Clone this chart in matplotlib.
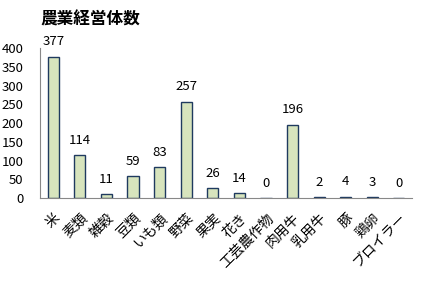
import matplotlib
matplotlib.use("Agg")
import matplotlib.pyplot as plt
import numpy as np

plt.rcParams['font.family'] = ['Noto Sans CJK JP', 'DejaVu Sans']

title = "農業経営体数"
categories = ["米", "麦類", "雑穀", "豆類", "いも類", "野菜", "果実", "花き",
              "工芸農作物", "肉用牛", "乳用牛", "豚", "鶏卵", "ブロイラー"]
values = [377, 114, 11, 59, 83, 257, 26, 14, 0, 196, 2, 4, 3, 0]
yticks = [0, 50, 100, 150, 200, 250, 300, 350, 400]

fig = plt.figure(figsize=(4.21, 2.81), dpi=100)
ax = fig.add_axes([0.095, 0.295, 0.884, 0.534])
x = np.arange(len(categories))
ax.bar(x, values, width=0.42, color="#d7e4bd", edgecolor="#1f3a5f", linewidth=1.0)
for xi, v in zip(x, values):
    ax.text(xi, v + 22, str(v), ha="center", va="bottom", fontsize=9.5)
ax.set_xlim(-0.5, len(categories) - 0.5)
ax.set_ylim(0, 400)
ax.set_yticks(yticks)
ax.set_yticklabels([str(t) for t in yticks], fontsize=9.5)
ax.set_xticks(x)
ax.set_xticklabels(categories, rotation=45, ha="right", va="top", rotation_mode="anchor", fontsize=10)
ax.tick_params(axis="y", length=0, pad=12)
ax.tick_params(axis="x", length=0, pad=9)
for s in ["top", "right"]:
    ax.spines[s].set_visible(False)
ax.spines["left"].set_color("#888888")
ax.spines["bottom"].set_color("#888888")
ax.set_facecolor("white")
fig.text(0.214, 0.929, title, ha="center", va="center", fontsize=12, fontweight="bold")
fig.savefig("out.png", dpi=100)
